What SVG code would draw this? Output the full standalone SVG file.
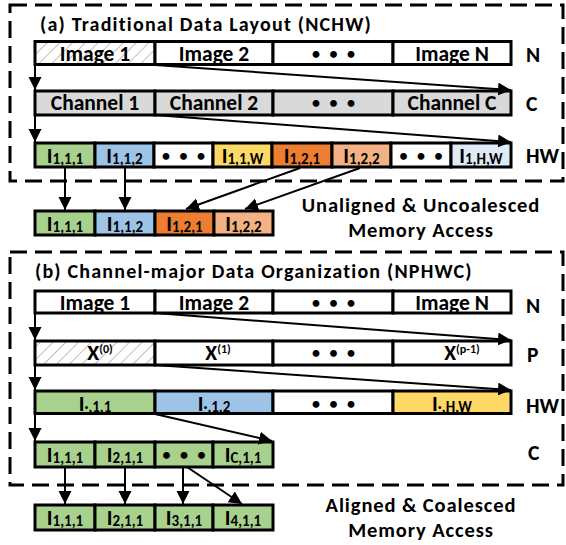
<svg xmlns="http://www.w3.org/2000/svg" width="566" height="545" viewBox="0 0 566 545">
<defs>
<style>
text{font-family:Calibri,Carlito,"Liberation Sans",Arial,sans-serif;font-weight:bold;fill:#000}
.t{font-size:21.5px;text-anchor:middle}
.d{font-size:16px;text-anchor:middle;letter-spacing:3px}
.ti{font-size:20px;letter-spacing:1.2px}
.lbl{font-size:21.5px}
.cap{font-size:20.5px;text-anchor:middle;letter-spacing:0.9px}
.sub{font-size:15px}
.sup{font-size:12px}
.cell{stroke:#000;stroke-width:3}
.w{fill:#fff}.g{fill:#d9d9d9}.gr{fill:#a9d18e}.bl{fill:#9dc3e6}.ye{fill:#ffd966}.or{fill:#ed7d31}.pe{fill:#f4b183}.lb{fill:#deebf7}.h{fill:url(#hatch)}
.box{fill:none;stroke:#000;stroke-width:3;stroke-dasharray:17 8}
.con{stroke:#000;stroke-width:2;fill:none;marker-end:url(#ah)}
</style>
<pattern id="hatch" patternUnits="userSpaceOnUse" width="9" height="9" patternTransform="rotate(45)">
<rect width="9" height="9" fill="#fff"/>
<line x1="0" y1="0" x2="0" y2="9" stroke="#bfbfbf" stroke-width="2"/>
</pattern>
<marker id="ah" markerUnits="userSpaceOnUse" markerWidth="14" markerHeight="14" refX="13" refY="6.5" orient="auto">
<path d="M0,0 L13,6.5 L0,13 z" fill="#000"/>
</marker>
</defs>

<rect class="box" x="10" y="5" width="553" height="176"/>
<rect class="box" x="10" y="252" width="553" height="233"/>

<g id="title-a"><text class="ti" x="40" y="31">(a) Traditional Data Layout (NCHW)</text></g>
<g id="title-b"><text class="ti" x="35" y="278">(b) Channel-major Data Organization (NPHWC)</text></g>

<g id="a-row-n">
<rect class="cell h" x="35" y="41.5" width="120" height="23"/>
<rect class="cell w" x="155" y="41.5" width="118" height="23"/>
<rect class="cell w" x="273" y="41.5" width="120" height="23"/>
<rect class="cell w" x="393" y="41.5" width="118" height="23"/>
<text class="t" x="95" y="61">Image 1</text>
<text class="t" x="214" y="61">Image 2</text>
<text class="d" x="335" y="59">• • •</text>
<text class="t" x="452" y="61">Image N</text>
<text class="lbl" x="526" y="62">N</text>
</g>

<g id="a-row-c">
<rect class="cell g" x="35" y="91" width="120" height="24"/>
<rect class="cell g" x="155" y="91" width="118" height="24"/>
<rect class="cell g" x="273" y="91" width="120" height="24"/>
<rect class="cell g" x="393" y="91" width="118" height="24"/>
<text class="t" x="95" y="110">Channel 1</text>
<text class="t" x="214" y="110">Channel 2</text>
<text class="d" x="335" y="108">• • •</text>
<text class="t" x="452" y="110">Channel C</text>
<text class="lbl" x="526" y="111">C</text>
</g>

<g id="a-row-hw">
<rect class="cell gr" x="35" y="143" width="60" height="24"/>
<rect class="cell bl" x="95" y="143" width="59" height="24"/>
<rect class="cell w" x="154" y="143" width="59" height="24"/>
<rect class="cell ye" x="213" y="143" width="59" height="24"/>
<rect class="cell or" x="272" y="143" width="60" height="24"/>
<rect class="cell pe" x="332" y="143" width="59" height="24"/>
<rect class="cell w" x="391" y="143" width="60" height="24"/>
<rect class="cell lb" x="451" y="143" width="60" height="24"/>
<text class="t" x="65" y="163">I<tspan class="sub" dy="1">1,1,1</tspan></text>
<text class="t" x="124.5" y="163">I<tspan class="sub" dy="1">1,1,2</tspan></text>
<text class="d" x="185" y="161">• • •</text>
<text class="t" x="242.5" y="163">I<tspan class="sub" dy="1">1,1,W</tspan></text>
<text class="t" x="302" y="163">I<tspan class="sub" dy="1">1,2,1</tspan></text>
<text class="t" x="361.5" y="163">I<tspan class="sub" dy="1">1,2,2</tspan></text>
<text class="d" x="422.5" y="161">• • •</text>
<text class="t" x="481" y="163">I<tspan class="sub" dy="1">1,H,W</tspan></text>
<text class="lbl" x="526" y="163">HW</text>
</g>

<g id="a-access">
<rect class="cell gr" x="35" y="211" width="60" height="24"/>
<rect class="cell bl" x="95" y="211" width="60" height="24"/>
<rect class="cell or" x="155" y="211" width="59" height="24"/>
<rect class="cell pe" x="214" y="211" width="59" height="24"/>
<text class="t" x="65" y="231">I<tspan class="sub" dy="1">1,1,1</tspan></text>
<text class="t" x="125" y="231">I<tspan class="sub" dy="1">1,1,2</tspan></text>
<text class="t" x="184.5" y="231">I<tspan class="sub" dy="1">1,2,1</tspan></text>
<text class="t" x="243.5" y="231">I<tspan class="sub" dy="1">1,2,2</tspan></text>
</g>

<g id="a-caption">
<text class="cap" x="421" y="212">Unaligned &amp; Uncoalesced</text>
<text class="cap" x="421" y="237">Memory Access</text>
</g>

<g id="b-row-n">
<rect class="cell w" x="35" y="291" width="120" height="22"/>
<rect class="cell w" x="155" y="291" width="118" height="22"/>
<rect class="cell w" x="273" y="291" width="120" height="22"/>
<rect class="cell w" x="393" y="291" width="118" height="22"/>
<text class="t" x="95" y="310">Image 1</text>
<text class="t" x="214" y="310">Image 2</text>
<text class="d" x="335" y="308">• • •</text>
<text class="t" x="452" y="310">Image N</text>
<text class="lbl" x="526" y="313">N</text>
</g>

<g id="b-row-p">
<rect class="cell h" x="35" y="341" width="120" height="24"/>
<rect class="cell w" x="155" y="341" width="118" height="24"/>
<rect class="cell w" x="273" y="341" width="120" height="24"/>
<rect class="cell w" x="393" y="341" width="118" height="24"/>
<text class="t" x="100" y="360">X<tspan class="sup" dy="-7">(0)</tspan></text>
<text class="t" x="218" y="360">X<tspan class="sup" dy="-7">(1)</tspan></text>
<text class="d" x="335" y="358">• • •</text>
<text class="t" x="462" y="360">X<tspan class="sup" dy="-7">(p-1)</tspan></text>
<text class="lbl" x="527" y="362">P</text>
</g>

<g id="b-row-hw">
<rect class="cell gr" x="35" y="391" width="120" height="22.5"/>
<rect class="cell bl" x="155" y="391" width="118" height="22.5"/>
<rect class="cell w" x="273" y="391" width="120" height="22.5"/>
<rect class="cell ye" x="393" y="391" width="118" height="22.5"/>
<text class="t" x="95" y="411">I<tspan class="sub" dy="1">·,1,1</tspan></text>
<text class="t" x="214" y="411">I<tspan class="sub" dy="1">·,1,2</tspan></text>
<text class="d" x="335" y="409">• • •</text>
<text class="t" x="452" y="411">I<tspan class="sub" dy="1">·,H,W</tspan></text>
<text class="lbl" x="526" y="413">HW</text>
</g>

<g id="b-row-c">
<rect class="cell gr" x="35" y="442" width="60" height="25"/>
<rect class="cell gr" x="95" y="442" width="60" height="25"/>
<rect class="cell gr" x="155" y="442" width="58" height="25"/>
<rect class="cell gr" x="213" y="442" width="60" height="25"/>
<text class="t" x="65" y="462">I<tspan class="sub" dy="1">1,1,1</tspan></text>
<text class="t" x="125" y="462">I<tspan class="sub" dy="1">2,1,1</tspan></text>
<text class="d" x="185.5" y="460">• • •</text>
<text class="t" x="243" y="462">I<tspan class="sub" dy="1">C,1,1</tspan></text>
<text class="lbl" x="528" y="460">C</text>
</g>

<g id="b-access">
<rect class="cell gr" x="35" y="505" width="60" height="25"/>
<rect class="cell gr" x="95" y="505" width="60" height="25"/>
<rect class="cell gr" x="155" y="505" width="58" height="25"/>
<rect class="cell gr" x="213" y="505" width="60" height="25"/>
<text class="t" x="65" y="525">I<tspan class="sub" dy="1">1,1,1</tspan></text>
<text class="t" x="125" y="525">I<tspan class="sub" dy="1">2,1,1</tspan></text>
<text class="t" x="184" y="525">I<tspan class="sub" dy="1">3,1,1</tspan></text>
<text class="t" x="243" y="525">I<tspan class="sub" dy="1">4,1,1</tspan></text>
</g>

<g id="b-caption">
<text class="cap" x="421" y="512">Aligned &amp; Coalesced</text>
<text class="cap" x="421" y="537">Memory Access</text>
</g>

<g id="connectors">
<line class="con" x1="35" y1="65" x2="35" y2="90"/>
<line class="con" x1="155" y1="65" x2="511" y2="90"/>
<line class="con" x1="35" y1="115" x2="35" y2="142"/>
<line class="con" x1="155" y1="115" x2="511" y2="142"/>
<line class="con" x1="65" y1="167" x2="65" y2="210"/>
<line class="con" x1="125" y1="167" x2="125" y2="210"/>
<line class="con" x1="300" y1="168" x2="186" y2="209"/>
<line class="con" x1="360" y1="168" x2="245" y2="209"/>
<line class="con" x1="35" y1="313" x2="35" y2="340"/>
<line class="con" x1="155" y1="313" x2="511" y2="340"/>
<line class="con" x1="35" y1="365" x2="35" y2="390"/>
<line class="con" x1="155" y1="365" x2="511" y2="390"/>
<line class="con" x1="35" y1="414" x2="35" y2="441"/>
<line class="con" x1="155" y1="414" x2="272" y2="441"/>
<line class="con" x1="65" y1="467" x2="65" y2="504"/>
<line class="con" x1="125" y1="467" x2="125" y2="504"/>
<line class="con" x1="183" y1="467" x2="183" y2="504"/>
<line class="con" x1="187" y1="467" x2="242" y2="504"/>
</g>
</svg>
